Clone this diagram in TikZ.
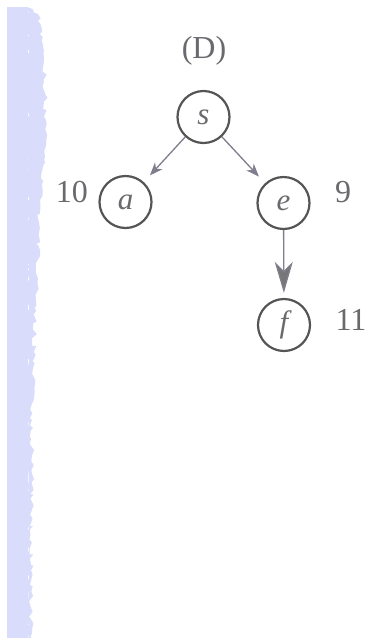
\documentclass[tikz,border=0pt]{standalone}
\usepackage{fontspec}
\setmainfont{Liberation Serif}
\usetikzlibrary{arrows.meta,decorations.pathmorphing}

\definecolor{inkgray}{HTML}{555555}
\definecolor{textgray}{HTML}{6A6A6E}
\definecolor{edgegray}{HTML}{7E7E8C}
\definecolor{margin}{HTML}{D9DCFB}

\begin{document}
\begin{tikzpicture}[x=1pt,y=-1pt,
    vertex/.style={circle, draw=inkgray, line width=2.2pt, minimum size=52pt, inner sep=0pt,
                   text=textgray, font={\fontsize{31}{34}\selectfont\itshape}},
    weight/.style={text=textgray, font={\fontsize{32}{36}\selectfont}},
    edge/.style={draw=edgegray, line width=1.3pt, shorten >=9pt},
    ]
        \useasboundingbox (0,0) rectangle (369,638);
        % binding strip along the left edge
        \fill[margin] (7,7) rectangle (28,638);
        \fill[margin, decoration={random steps, segment length=4pt, amplitude=2.5pt}, decorate]
            (27,7) -- (38,14) -- (44,60) -- (46,120) -- (40,200) -- (36,300) -- (32,420) -- (31,638) -- (27,638) -- cycle;
        \node[weight] at (204, 51) {(D)};
        \node[vertex] (s) at (203.5, 117) {s};
        \node[vertex] (a) at (125.5, 202) {a};
        \node[vertex] (e) at (283.5, 203) {e};
        \node[vertex] (f) at (284, 325) {f};
        \node[weight] at (72, 192) {10};
        \node[weight] at (343, 192) {9};
        \node[weight] at (351, 320) {11};
        \draw[edge, -{Stealth[length=13pt, width=10pt, inset=4pt]}] (s) -- (a);
        \draw[edge, -{Stealth[length=13pt, width=10pt, inset=4pt]}] (s) -- (e);
        \draw[edge, shorten >=5pt, -{Stealth[length=31pt, width=18pt, inset=9pt, fill=inkgray!80]}] (e) -- (f);
    \end{tikzpicture}
\end{document}
